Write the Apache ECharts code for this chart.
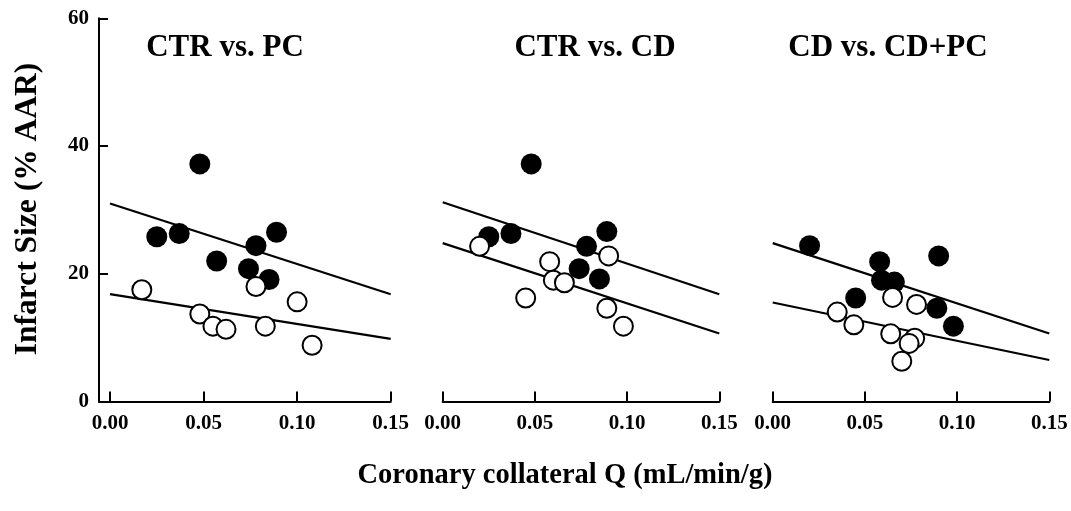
<!DOCTYPE html>
<html>
<head>
<meta charset="utf-8">
<script src="https://cdn.jsdelivr.net/npm/echarts@6/dist/echarts.min.js"></script>
<style>
html,body{margin:0;padding:0;background:#fff;}
#chart{width:1071px;height:511px;}
</style>
</head>
<body>
<div id="chart"></div>
<script>
// ---- data ----
const panelTitles = ['CTR vs. PC', 'CTR vs. CD', 'CD vs. CD+PC'];
const xTicks = [0, 0.05, 0.10, 0.15];
const yTicks = [0, 20, 40, 60];
const xTitle = 'Coronary collateral Q (mL/min/g)';
const yTitle = 'Infarct Size (% AAR)';

// Panel 1: CTR (filled) vs PC (open)
const p1FilledX = [0.048, 0.025, 0.037, 0.057, 0.078, 0.089, 0.074, 0.085];
const p1FilledY = [37.2, 25.8, 26.3, 22.0, 24.4, 26.5, 20.8, 19.1];
const p1OpenX = [0.017, 0.048, 0.055, 0.062, 0.078, 0.083, 0.100, 0.108];
const p1OpenY = [17.5, 13.7, 11.8, 11.3, 18.0, 11.8, 15.6, 8.8];
const p1FitFilled = [31.0, 16.8];
const p1FitOpen = [16.8, 9.8];

// Panel 2: CTR (filled) vs CD (open)
const p2FilledX = [0.048, 0.025, 0.037, 0.078, 0.089, 0.074, 0.085];
const p2FilledY = [37.2, 25.8, 26.3, 24.3, 26.6, 20.8, 19.2];
const p2OpenX = [0.020, 0.058, 0.060, 0.066, 0.045, 0.090, 0.089, 0.098];
const p2OpenY = [24.3, 21.9, 19.0, 18.6, 16.2, 22.8, 14.6, 11.8];
const p2FitFilled = [31.2, 16.8];
const p2FitOpen = [24.8, 10.65];

// Panel 3: CD (filled) vs CD+PC (open)
const p3FilledX = [0.020, 0.058, 0.059, 0.066, 0.045, 0.090, 0.089, 0.098];
const p3FilledY = [24.4, 21.9, 19.0, 18.7, 16.2, 22.8, 14.6, 11.8];
const p3OpenX = [0.035, 0.044, 0.065, 0.078, 0.064, 0.077, 0.074, 0.070];
const p3OpenY = [14.0, 12.0, 16.3, 15.2, 10.6, 9.9, 9.1, 6.3];
const p3FitFilled = [24.8, 10.65];
const p3FitOpen = [15.5, 6.5];

const fitX = [0, 0.15];

// ---- build ----
const FONT = "'Liberation Serif','Times New Roman',serif";
const zip = (xs, ys) => xs.map((x, i) => [x, ys[i]]);
const fitData = (vals) => fitX.map((x, i) => [x, vals[i]]);

const panels = [
  {filled: zip(p1FilledX, p1FilledY), open: zip(p1OpenX, p1OpenY), fitF: p1FitFilled, fitO: p1FitOpen},
  {filled: zip(p2FilledX, p2FilledY), open: zip(p2OpenX, p2OpenY), fitF: p2FitFilled, fitO: p2FitOpen},
  {filled: zip(p3FilledX, p3FilledY), open: zip(p3OpenX, p3OpenY), fitF: p3FitFilled, fitO: p3FitOpen}
];

const gridTop = 18.3, gridBottom = 109.5;
const grids = [
  {left: 99, width: 291.7, top: gridTop, bottom: gridBottom},
  {left: 442.7, width: 276.6, top: gridTop, bottom: gridBottom},
  {left: 772.7, width: 276.6, top: gridTop, bottom: gridBottom}
];
// panel 1 x-axis line starts at the y-axis, left of 0.00
const xMins = [-0.00588, 0, 0];

const labelStyle = {fontFamily: FONT, fontWeight: 'bold', fontSize: 21, color: '#000'};

const xAxes = grids.map((g, i) => ({
  type: 'value', gridIndex: i, min: xMins[i], max: 0.15,
  axisLine: {show: true, onZero: false, lineStyle: {color: '#000', width: 2}},
  axisTick: {show: true, inside: true, length: 10, customValues: xTicks, lineStyle: {color: '#000', width: 2}},
  axisLabel: Object.assign({show: true, margin: 12, customValues: xTicks, formatter: v => v.toFixed(2)}, labelStyle),
  splitLine: {show: false}
}));

const yAxes = grids.map((g, i) => ({
  type: 'value', gridIndex: i, min: 0, max: 60, interval: 20,
  show: i === 0,
  axisLine: {show: true, onZero: false, lineStyle: {color: '#000', width: 2}},
  axisTick: {show: true, inside: true, length: 9, lineStyle: {color: '#000', width: 2}},
  axisLabel: Object.assign({show: true, margin: 10, customValues: yTicks}, labelStyle),
  splitLine: {show: false}
}));

const series = [];
panels.forEach((p, i) => {
  [p.fitF, p.fitO].forEach(f => {
    series.push({
      type: 'line', xAxisIndex: i, yAxisIndex: i, data: fitData(f),
      symbol: 'none', lineStyle: {color: '#000', width: 2.2}, silent: true, z: 1
    });
  });
  series.push({
    type: 'scatter', xAxisIndex: i, yAxisIndex: i, data: p.filled,
    symbol: 'circle', symbolSize: 21,
    itemStyle: {color: '#000', opacity: 1}, z: 2
  });
  series.push({
    type: 'scatter', xAxisIndex: i, yAxisIndex: i, data: p.open,
    symbol: 'circle', symbolSize: 19,
    itemStyle: {color: '#fff', borderColor: '#000', borderWidth: 2, opacity: 1}, z: 3
  });
});

const titleCenters = [[225, 48], [595, 48], [888, 48]];
const graphics = panelTitles.map((t, i) => ({
  type: 'text', x: titleCenters[i][0], y: titleCenters[i][1],
  style: {text: t, fontFamily: FONT, fontWeight: 'bold', fontSize: 31, fill: '#000',
          textAlign: 'center', textVerticalAlign: 'middle'}
}));
graphics.push({
  type: 'text', x: 565, y: 476,
  style: {text: xTitle, fontFamily: FONT, fontWeight: 'bold', fontSize: 28.5, fill: '#000',
          textAlign: 'center', textVerticalAlign: 'middle'}
});
graphics.push({
  type: 'text', x: 28, y: 209, rotation: Math.PI / 2,
  style: {text: yTitle, fontFamily: FONT, fontWeight: 'bold', fontSize: 31.5, fill: '#000',
          textAlign: 'center', textVerticalAlign: 'middle'}
});

const chart = echarts.init(document.getElementById('chart'), null, {renderer: 'canvas'});
chart.setOption({
  animation: false,
  backgroundColor: '#fff',
  grid: grids,
  xAxis: xAxes,
  yAxis: yAxes,
  series: series,
  graphic: graphics
});
</script>
</body>
</html>
